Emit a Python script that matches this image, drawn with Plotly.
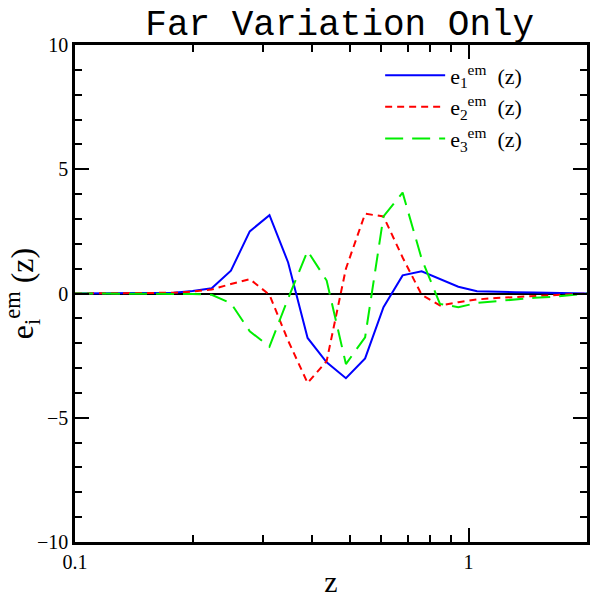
import plotly.graph_objects as go

z = [0.1, 0.1136, 0.127, 0.142, 0.159, 0.178, 0.199, 0.2225, 0.249, 0.278,
     0.312, 0.348, 0.390, 0.436, 0.488, 0.546, 0.608, 0.680, 0.760, 0.846,
     0.942, 1.051, 1.175, 1.314, 1.47, 1.64, 1.83, 2.0]

e1 = [0, 0, 0, 0, 0.01, 0.03, 0.1, 0.21, 0.92, 2.5,
      3.15, 1.25, -1.79, -2.77, -3.41, -2.61, -0.55, 0.73, 0.89, 0.57,
      0.27, 0.09, 0.06, 0.05, 0.04, 0.03, 0.02, 0.0]

e2 = [0, 0, 0, 0, 0.01, 0.03, 0.08, 0.16, 0.38, 0.58,
      -0.05, -1.9, -3.6, -2.72, 1.0, 3.21, 3.1, 1.45, -0.05, -0.48,
      -0.35, -0.24, -0.18, -0.14, -0.1, -0.07, -0.04, 0.0]

e3 = [0, 0, 0, 0, 0, 0, -0.02, -0.05, -0.39, -1.52,
      -2.14, -0.2, 1.71, 0.52, -2.84, -1.76, 3.1, 4.06, 1.4, -0.42,
      -0.55, -0.38, -0.3, -0.23, -0.17, -0.13, -0.07, 0.0]

names = ["e<sub>1</sub><sup>em</sup>  (z)", "e<sub>2</sub><sup>em</sup>  (z)", "e<sub>3</sub><sup>em</sup>  (z)"]

xticks = [0.1, 1]
xticktext = ["0.1", "1"]
xminor = [0.2, 0.3, 0.4, 0.5, 0.6, 0.7, 0.8, 0.9, 2]
yticks = [-10, -5, 0, 5, 10]
yticktext = ["\u221210", "\u22125", "0", "5", "10"]

fig = go.Figure()
fig.add_trace(go.Scatter(x=z, y=e1, mode="lines", name=names[0],
                         line=dict(color="#0000ff", width=2)))
fig.add_trace(go.Scatter(x=z, y=e2, mode="lines", name=names[1],
                         line=dict(color="#ff0000", width=2, dash="7px,5px")))
fig.add_trace(go.Scatter(x=z, y=e3, mode="lines", name=names[2],
                         line=dict(color="#00ee00", width=2, dash="18px,9px")))

axfont = dict(family="Liberation Serif", size=20, color="black")
fig.update_layout(
    width=593, height=599,
    margin=dict(l=75, r=6, t=45, b=57, autoexpand=False),
    paper_bgcolor="white", plot_bgcolor="white",
    title=dict(text="Far Variation Only", x=0.573, xanchor="center",
               y=0.963, yanchor="middle",
               font=dict(family="Liberation Mono", size=36, color="black")),
    showlegend=True,
    legend=dict(x=0.596, y=0.981, xanchor="left", yanchor="top",
                bgcolor="rgba(0,0,0,0)", font=dict(family="Liberation Serif", size=22, color="black"),
                itemwidth=60, tracegroupgap=0),
    xaxis=dict(type="log", range=[-1, 0.30103], tickvals=xticks, ticktext=xticktext,
               ticks="inside", ticklen=14, tickwidth=1.5, tickcolor="black",
               showline=True, linecolor="black", linewidth=2.5, mirror="allticks",
               showgrid=False, zeroline=False, tickfont=axfont, automargin=False,
               minor=dict(tickvals=xminor, ticks="inside", ticklen=7, tickwidth=1.5,
                          tickcolor="black", showgrid=False),
               title=dict(text="z", font=dict(family="Liberation Serif", size=30, color="black"),
                          standoff=0)),
    yaxis=dict(range=[-10, 10], tickvals=yticks, ticktext=yticktext,
               ticks="inside", ticklen=14, tickwidth=1.5, tickcolor="black",
               showline=True, linecolor="black", linewidth=2.5, mirror="allticks",
               showgrid=False, zeroline=True, zerolinecolor="black", zerolinewidth=2,
               tickfont=axfont, automargin=False,
               minor=dict(dtick=1, ticks="inside", ticklen=7, tickwidth=1.5,
                          tickcolor="black", showgrid=False),
               title=dict(text="e<sub>i</sub><sup>em</sup> (z)",
                          font=dict(family="Liberation Serif", size=32, color="black"),
                          standoff=0)),
)

fig.write_html("out.html", config={"displayModeBar": False},
               post_script="document.body.style.margin='0';document.body.style.overflow='hidden';")
